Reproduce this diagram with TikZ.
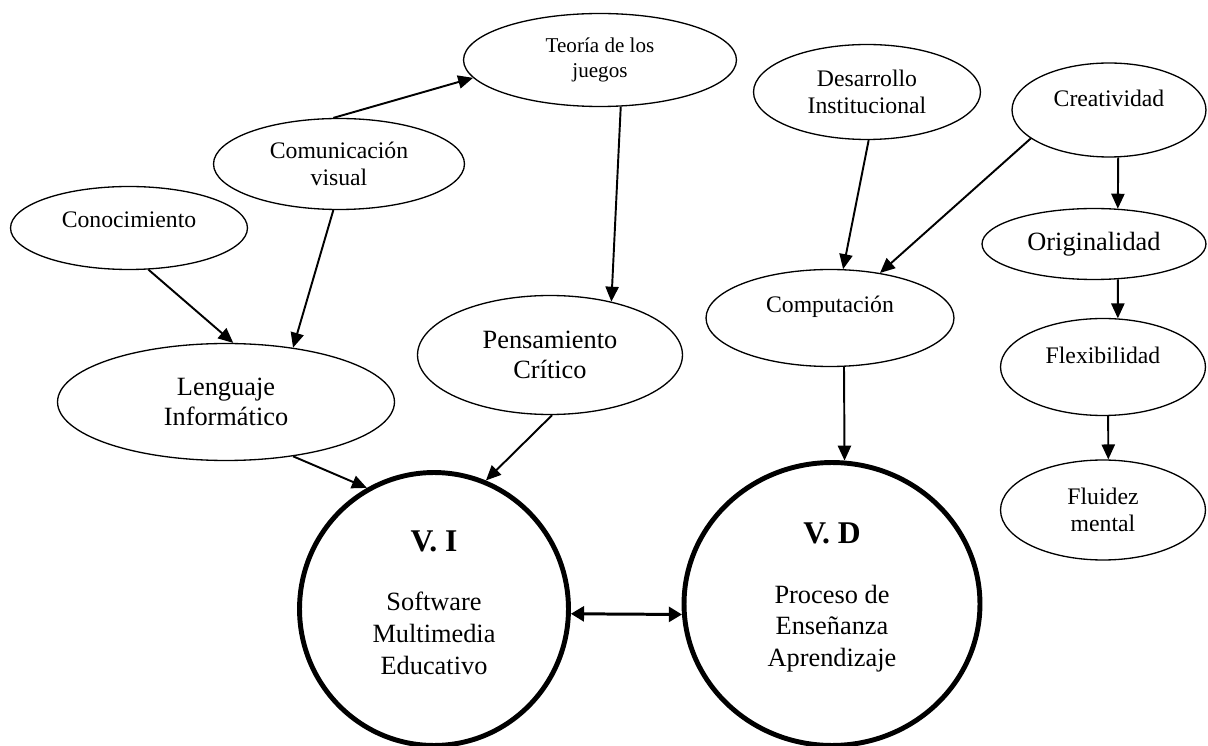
\documentclass[tikz,border=0pt]{standalone}
\usepackage{fontspec}
\setmainfont{Liberation Serif}
\usetikzlibrary{shapes.geometric,arrows.meta}

\tikzset{
  concept/.style={ellipse, draw, line width=0.75pt, inner sep=0pt, align=center, font=\fontsize{13.5}{15}\selectfont},
  mainvar/.style={ellipse, draw, line width=2.8pt, inner sep=0pt},
  smallfont/.style={font=\fontsize{12}{14}\selectfont},
  largefont/.style={font=\fontsize{15}{17.5}\selectfont},
  midfont/.style={font=\fontsize{13.5}{15}\selectfont},
  varfont/.style={font=\fontsize{15}{18}\selectfont, align=center},
  link/.style={line width=1.1pt, -{Triangle[length=8.5pt,width=7.5pt]}},
  bothlink/.style={line width=1.7pt, {Triangle[length=7.5pt,width=8.5pt]}-{Triangle[length=7.5pt,width=8.5pt]}},
}

\begin{document}
\begin{tikzpicture}[x=0.02cm, y=-0.02cm]
		\useasboundingbox (0,0) rectangle (1208,746);

		% Define nodes
		\node[concept, minimum width=4.74cm, minimum height=1.66cm, label={[midfont, yshift=4.5pt]center:Conocimiento}] (cono) at (129,228) {};
		\node[concept, minimum width=5.02cm, minimum height=1.82cm] (comu) at (339,164) {Comunicación\\visual};
		\node[concept, smallfont, minimum width=5.46cm, minimum height=1.86cm] (teoria) at (600,60) {Teoría de los\\juegos};
		\node[concept, largefont, minimum width=6.74cm, minimum height=2.34cm] (leng) at (226,402) {Lenguaje\\Informático};
		\node[concept, largefont, minimum width=5.30cm, minimum height=2.38cm] (pens) at (550,355) {Pensamiento\\Crítico};
		\node[concept, minimum width=4.54cm, minimum height=1.90cm] (desa) at (867,92) {Desarrollo\\Institucional};
		\node[concept, minimum width=4.96cm, minimum height=1.94cm, label={[midfont, yshift=6.2pt]center:Computación}] (comp) at (830,318) {};
		\node[concept, minimum width=3.88cm, minimum height=1.88cm, label={[midfont, yshift=6.8pt]center:Creatividad}] (crea) at (1109,110) {};
		\node[concept, largefont, minimum width=4.48cm, minimum height=1.42cm] (orig) at (1094,244) {Originalidad};
		\node[concept, minimum width=4.10cm, minimum height=1.94cm, label={[midfont, yshift=6.8pt]center:Flexibilidad}] (flex) at (1103,367) {};
		\node[concept, minimum width=4.10cm, minimum height=2.00cm] (flui) at (1103,510) {Fluidez\\mental};
		\node[mainvar, minimum width=5.38cm, minimum height=5.46cm, label={[varfont, yshift=3.8pt]center:{{\bfseries\fontsize{18}{20}\selectfont V. I}\\[16pt]Software\\Multimedia\\Educativo}}] (vi) at (434,609) {};
		\node[mainvar, minimum width=5.92cm, minimum height=5.66cm, label={[varfont, yshift=3.8pt]center:{{\bfseries\fontsize{18}{20}\selectfont V. D}\\[16pt]Proceso de\\Enseñanza\\Aprendizaje}}] (vd) at (832,604) {};

		% Connect the nodes
		\draw[link] (cono.-65) -- (leng.83);
		\draw[link] (comu.-97) -- (leng.39);
		\draw[link] (comu.97) -- (teoria.-172);
		\draw[link] (teoria.-66) -- (pens.41);
		\draw[link] (leng.-39) -- (vi.119);
		\draw[link] (pens.-88) -- (vi.68);
		\draw[link] (desa.-88) -- (comp.75);
		\draw[link] (crea.200) -- (comp.42);
		\draw[link] (crea.-79) -- (orig.56);
		\draw[link] (orig.-56) -- (flex.73);
		\draw[link] (flex.-84) -- (flui.84);
		\draw[link] (comp.-74) -- (vd.85);
		\draw[bothlink] (vi.-2) -- (vd.184);
	\end{tikzpicture}
\end{document}
